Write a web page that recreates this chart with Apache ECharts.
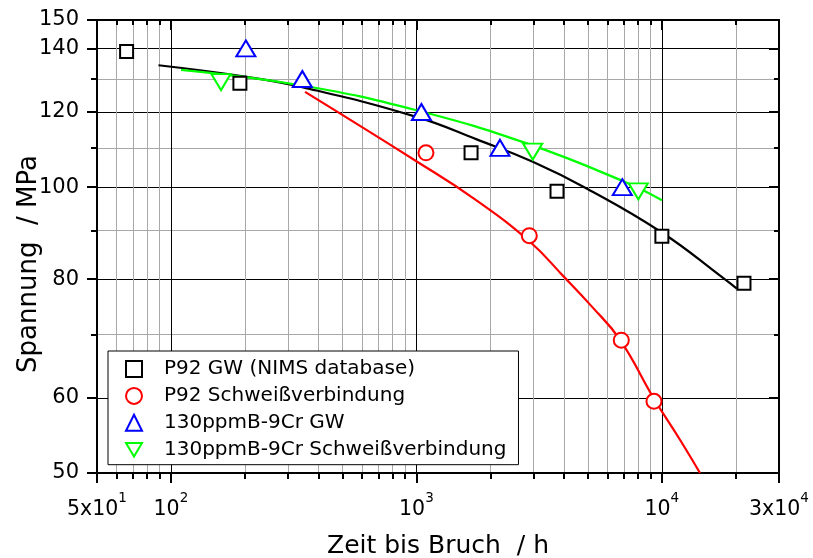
<!DOCTYPE html>
<html><head><meta charset="utf-8">
<script src="https://cdn.jsdelivr.net/npm/echarts@6/dist/echarts.min.js"></script>
<style>html,body{margin:0;padding:0;background:#fff}#c{width:813px;height:558px}</style>
</head><body><div id="c"></div>
<script>
// ---- tick values ----
const xLabelTicks = [50, 100, 1000, 10000, 30000];
const xMajorGrid = [100, 1000, 10000];
const xMinorTicks = [60, 70, 80, 90, 200, 300, 400, 500, 600, 700, 800, 900,
  2000, 3000, 4000, 5000, 6000, 7000, 8000, 9000, 20000];
const yLabelTicks = [50, 60, 80, 100, 120, 140, 150];
const yMinorTicks = [70, 90, 110, 130];

// ---- measured points ----
const p92gwTime = [66, 191, 1670, 3740, 10000, 21600];
const p92gwStress = [139, 128.7, 108.7, 99, 88.8, 79.2];
const p92swTime = [1094, 2884, 6834, 9286, 16600];
const p92swStress = [108.7, 88.9, 69, 59.5, 49.3];
const b9gwTime = [202, 343, 1048, 2190, 6900];
const b9gwStress = [140, 130, 120, 110, 100];
const b9swTime = [160, 2977, 8016];
const b9swStress = [129, 109, 99];

// ---- fit curves ----
const p92gwFitTime = [89, 203, 346, 1000, 1761, 2994, 4939, 10000, 17800, 20200];
const p92gwFitStress = [134.4, 130.7, 127.4, 118.6, 112.3, 106.3, 99.7, 89.6, 80.2, 78.2];
const p92swFitTime = [352, 1000, 1733, 2901, 3967, 5176, 6746, 9312, 11850, 14300];
const p92swFitStress = [126, 106.5, 97.1, 87.6, 80.6, 74.9, 69.1, 59.8, 54.2, 50];
const b9swFitTime = [110, 346, 1000, 2815, 7187, 10000];
const b9swFitStress = [132.9, 127.9, 120.5, 111.2, 101.1, 96.9];

const names = ['P92 GW (NIMS database)', 'P92 Schweißverbindung', '130ppmB-9Cr GW', '130ppmB-9Cr Schweißverbindung'];

function zip(a, b) { return a.map((v, i) => [v, b[i]]); }
const FONT = 'DejaVu Sans';
function xFmt(v) {
  const e = Math.floor(Math.log10(v) + 1e-9);
  const m = Math.round(v / Math.pow(10, e));
  const pre = m === 1 ? '10' : m + 'x10';
  return '{b|' + pre + '}{s|' + e + '}';
}

const xBase = { type: 'log', min: 50, max: 30000, logBase: 10, gridIndex: 0 };
const yBase = { type: 'log', min: 50, max: 150, logBase: 10, gridIndex: 0 };
const LW = 2.2;

const chart = echarts.init(document.getElementById('c'), null, {renderer: 'canvas'});
chart.setOption({
  animation: false,
  backgroundColor: '#fff',
  grid: { left: 97, right: 34, top: 20, bottom: 85, containLabel: false, outerBoundsMode: 'none' },
  xAxis: [
    Object.assign({}, xBase, {
      position: 'bottom',
      name: 'Zeit bis Bruch  / h', nameLocation: 'middle', nameGap: 61, nameMoveOverlap: false,
      nameTextStyle: { fontFamily: FONT, fontSize: 25, color: '#000' },
      axisLine: { show: true, lineStyle: { color: '#000', width: 2 } },
      axisTick: { show: true, inside: false, length: 10, customValues: xLabelTicks, lineStyle: { color: '#000', width: 2 } },
      axisLabel: {
        show: true, customValues: xLabelTicks, margin: 18, formatter: xFmt,
        rich: {
          b: { fontFamily: FONT, fontSize: 20.5, color: '#000', padding: [8, 0, 0, 0] },
          s: { fontFamily: FONT, fontSize: 13.5, color: '#000', verticalAlign: 'top' }
        }
      },
      splitLine: { show: false }
    }),
    Object.assign({}, xBase, {
      position: 'bottom',
      axisLine: { show: false },
      axisTick: { show: true, inside: false, length: 6, customValues: xMinorTicks, lineStyle: { color: '#000', width: 2 } },
      axisLabel: { show: false },
      splitLine: { show: true, lineStyle: { color: '#a8a8a8', width: 1 } }
    }),
    Object.assign({}, xBase, {
      position: 'bottom',
      axisLine: { show: false },
      axisTick: { show: false, customValues: xMajorGrid },
      axisLabel: { show: false },
      splitLine: { show: true, lineStyle: { color: '#000', width: 1 } }
    }),
    Object.assign({}, xBase, {
      position: 'top',
      axisLine: { show: true, lineStyle: { color: '#000', width: 2 } },
      axisTick: { show: true, inside: true, length: 10, customValues: xLabelTicks, lineStyle: { color: '#000', width: 2 } },
      axisLabel: { show: false },
      splitLine: { show: false }
    }),
    Object.assign({}, xBase, {
      position: 'top',
      axisLine: { show: false },
      axisTick: { show: true, inside: true, length: 5, customValues: xMinorTicks, lineStyle: { color: '#000', width: 2 } },
      axisLabel: { show: false },
      splitLine: { show: false }
    })
  ],
  yAxis: [
    Object.assign({}, yBase, {
      position: 'left',
      name: 'Spannung  / MPa', nameLocation: 'middle', nameGap: 55, nameMoveOverlap: false,
      nameTextStyle: { fontFamily: FONT, fontSize: 26, color: '#000', padding: [0, 35, 0, 0] },
      axisLine: { show: true, lineStyle: { color: '#000', width: 2 } },
      axisTick: { show: true, inside: false, length: 10, customValues: yLabelTicks, lineStyle: { color: '#000', width: 2 } },
      axisLabel: { show: true, customValues: yLabelTicks, margin: 18, fontFamily: FONT, fontSize: 21, color: '#000' },
      splitLine: { show: true, lineStyle: { color: '#000', width: 1 } }
    }),
    Object.assign({}, yBase, {
      position: 'left',
      axisLine: { show: false },
      axisTick: { show: true, inside: false, length: 6, customValues: yMinorTicks, lineStyle: { color: '#000', width: 2 } },
      axisLabel: { show: false },
      splitLine: { show: true, lineStyle: { color: '#a8a8a8', width: 1 } }
    }),
    Object.assign({}, yBase, {
      position: 'right',
      axisLine: { show: true, lineStyle: { color: '#000', width: 2 } },
      axisTick: { show: true, inside: true, length: 10, customValues: yLabelTicks, lineStyle: { color: '#000', width: 2 } },
      axisLabel: { show: false },
      splitLine: { show: false }
    }),
    Object.assign({}, yBase, {
      position: 'right',
      axisLine: { show: false },
      axisTick: { show: true, inside: true, length: 5, customValues: yMinorTicks, lineStyle: { color: '#000', width: 2 } },
      axisLabel: { show: false },
      splitLine: { show: false }
    })
  ],
  legend: {
    show: true, orient: 'vertical', left: 108, top: 351,
    data: [
      { name: names[0] },
      { name: names[1] },
      { name: names[2] },
      { name: names[3], icon: 'path://M0,0L20,0L10,17Z' }
    ],
    itemWidth: 16, itemHeight: 16, itemGap: 6.9,
    padding: [8, 12, 5, 17],
    backgroundColor: '#fff', borderColor: '#000', borderWidth: 1, borderRadius: 0,
    textStyle: { fontFamily: FONT, fontSize: 20, color: '#000', padding: [0, 0, 0, 17] }
  },
  series: [
    { type: 'line', data: zip(p92gwFitTime, p92gwFitStress), smooth: 0.45, showSymbol: false, symbol: 'none',
      lineStyle: { color: '#000', width: LW }, z: 3, silent: true },
    { type: 'line', data: zip(p92swFitTime, p92swFitStress), smooth: 0.45, showSymbol: false, symbol: 'none',
      lineStyle: { color: '#ff0000', width: LW }, z: 3, silent: true },
    { type: 'line', data: zip(b9swFitTime, b9swFitStress), smooth: 0.45, showSymbol: false, symbol: 'none',
      lineStyle: { color: '#00ff00', width: LW }, z: 3, silent: true },
    { type: 'scatter', name: names[0], data: zip(p92gwTime, p92gwStress), symbol: 'rect', symbolSize: 13,
      itemStyle: { color: '#fff', borderColor: '#000', borderWidth: 2, opacity: 1 }, z: 5 },
    { type: 'scatter', name: names[1], data: zip(p92swTime, p92swStress), symbol: 'circle', symbolSize: 15,
      itemStyle: { color: '#fff', borderColor: '#ff0000', borderWidth: 2, opacity: 1 }, z: 5 },
    { type: 'scatter', name: names[2], data: zip(b9gwTime, b9gwStress), symbol: 'triangle', symbolSize: [19, 16],
      itemStyle: { color: '#fff', borderColor: '#0000ff', borderWidth: 2, opacity: 1 }, z: 5 },
    { type: 'scatter', name: names[3], data: zip(b9swTime, b9swStress), symbol: 'triangle', symbolSize: [19, 16], symbolRotate: 180,
      itemStyle: { color: '#fff', borderColor: '#00ff00', borderWidth: 2, opacity: 1 }, z: 5 }
  ]
});
</script>
</body></html>
